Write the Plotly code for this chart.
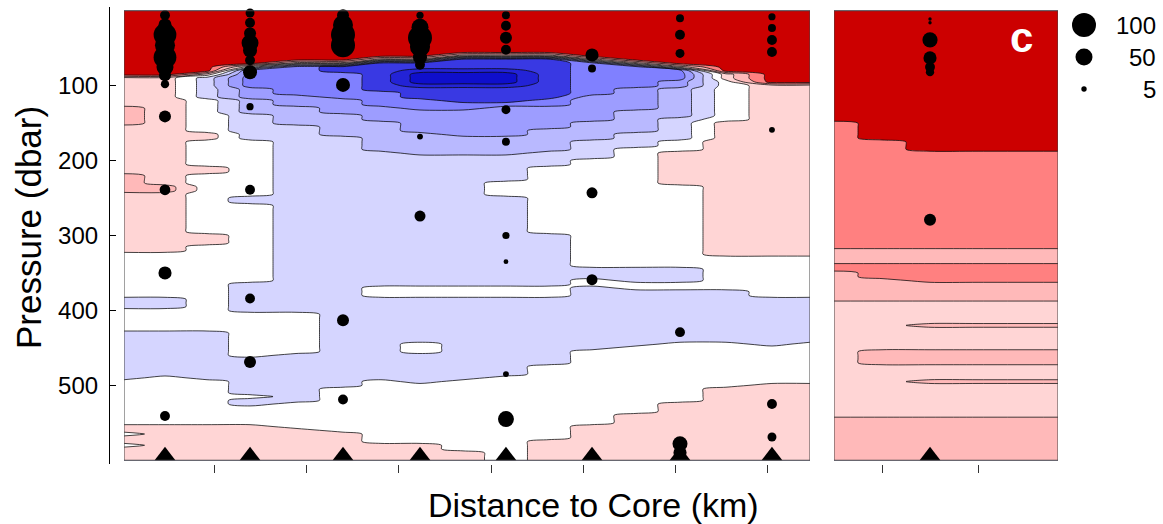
import plotly.graph_objects as go

# ---------------- data ----------------
# pressure grid (dbar)
P_GRID = list(range(0, 605, 5))

# left section: column positions (km) and layer tops (start pressure, class)
# class: 4 dark red, 3 salmon, 2 light salmon, 1 pink, 0 white,
#        -1..-7 increasingly dark blue
LEFT_X = [0.25, 4.69, 9.24, 13.90, 18.88, 23.97, 28.08, 32.31, 36.97,
          41.62, 46.28, 50.94, 55.70, 60.47, 65.45, 70.43, 74.55]
LEFT_LAYERS = [
    [(0, 4), (90, 1), (130, 2), (155, 1), (220, 2), (245, 1), (325, 0), (385, -1), (400, 0),
     (430, -1), (495, 0), (555, 1), (565, 0), (570, 1), (580, 0), (585, 1)],
    [(0, 4), (90, 1), (235, 2), (245, 1), (325, 0), (385, -1), (400, 0), (430, -1), (490, 0), (555, 1)],
    [(0, 4), (85, 1), (90, -1), (120, 0), (165, 1), (175, 0), (210, 1), (220, 0), (300, 1), (315, 0),
     (430, -1), (495, 0), (555, 1)],
    [(0, 4), (75, 0), (80, -4), (105, -3), (120, -2), (140, -1), (175, 0), (250, -1), (260, 0), (365, -1),
     (405, 0), (465, -1), (515, 0), (520, -1), (530, 0), (555, 1)],
    [(0, 4), (70, 1), (75, -4), (115, -3), (130, -2), (155, -1), (405, 0), (460, -1), (525, 0), (560, 1)],
    [(0, 4), (70, 1), (75, -5), (85, -4), (120, -3), (140, -2), (170, -1), (505, 0), (565, 1)],
    [(0, 4), (65, 1), (70, -5), (110, -4), (130, -3), (150, -2), (190, -1), (370, 0), (385, -1), (495, 0),
     (580, 1)],
    [(0, 4), (65, 1), (70, -5), (80, -6), (85, -7), (100, -6), (105, -5), (120, -4), (135, -3), (165, -2),
     (195, -1), (370, 0), (385, -1), (445, 0), (460, -1), (500, 0), (580, 1)],
    [(0, 4), (60, 1), (65, -5), (80, -6), (85, -7), (100, -6), (105, -5), (125, -4), (135, -3), (170, -2),
     (195, -1), (370, 0), (385, -1), (495, 0), (590, 1)],
    [(0, 4), (60, 1), (65, -5), (80, -6), (85, -7), (100, -6), (105, -5), (125, -4), (130, -3), (170, -2),
     (195, -1), (230, 0), (250, -1), (370, 0), (385, -1), (490, 0)],
    [(0, 4), (60, 1), (65, -5), (120, -4), (130, -3), (160, -2), (190, -1), (210, 0), (300, -1), (370, 0),
     (385, -1), (475, 0), (575, 1)],
    [(0, 4), (65, 1), (70, -4), (115, -3), (150, -2), (175, -1), (200, 0), (345, -1), (360, 0), (370, -1),
     (455, 0), (555, 1)],
    [(0, 4), (70, 1), (75, -4), (105, -3), (135, -2), (165, -1), (185, 0), (345, -1), (365, 0), (375, -1),
     (450, 0), (540, 1)],
    [(0, 4), (75, 1), (80, -4), (95, -3), (105, -2), (145, -1), (175, 0), (190, 1), (235, 0), (345, -1),
     (365, 0), (375, -1), (445, 0), (525, 1)],
    [(0, 4), (85, 1), (95, 0), (150, 1), (330, 0), (375, -1), (445, 0), (505, 1)],
    [(0, 4), (100, 1), (330, 0), (385, -1), (450, 0), (500, 1)],
    [(0, 4), (100, 1), (330, 0), (385, -1), (445, 0), (500, 1)],
]

# right section (panel c)
RIGHT_X = [0, 5, 10, 15, 23.33]
RIGHT_LAYERS = [
    [(0, 4), (150, 3), (320, 2), (340, 3), (350, 2), (390, 1), (545, 2)],
    [(0, 4), (175, 3), (320, 2), (340, 3), (360, 2), (390, 1), (455, 2), (475, 1), (545, 2)],
    [(0, 4), (190, 3), (320, 2), (340, 3), (365, 2), (390, 1), (420, 2), (425, 1), (455, 2),
     (475, 1), (495, 2), (500, 1), (545, 2)],
    [(0, 4), (190, 3), (320, 2), (340, 3), (365, 2), (390, 1), (420, 2), (425, 1), (455, 2),
     (475, 1), (495, 2), (500, 1), (545, 2)],
    [(0, 4), (190, 3), (320, 2), (340, 3), (365, 2), (390, 1), (420, 2), (425, 1), (455, 2),
     (475, 1), (495, 2), (500, 1), (545, 2)],
]

CLASS_COLORS = ['#0F0FCC', '#2323D6', '#3939E3', '#8080FF', '#9D9DFF', '#B9B9FF', '#D5D5FF',
                '#FFFFFF', '#FFD5D5', '#FFB9B9', '#FF8080', '#CC0000']  # classes -7..4

# bubbles: station x (km), pressure (dbar), value
STATIONS_LEFT = [4.69, 13.90, 23.97, 32.31, 41.62, 50.94, 60.47, 70.43]
BUB_LEFT_X = ([4.69] * 12 + [13.90] * 11 + [23.97] * 7 + [32.31] * 8 + [41.62] * 10
              + [50.94] * 4 + [60.47] * 6 + [70.43] * 7)
BUB_LEFT_P = ([6, 19, 32, 46, 62, 75, 86, 98, 141, 239, 350, 541]
              + [3, 16, 30, 43, 53, 66, 82, 128, 239, 384, 469]
              + [6, 19, 32, 46, 99, 413, 519]
              + [6, 22, 36, 48, 62, 72, 168, 274]
              + [6, 20, 36, 52, 132, 175, 300, 335, 485, 545]
              + [59, 77, 243, 359]
              + [10, 32, 57, 429, 578, 590]
              + [8, 23, 39, 55, 159, 525, 569])
BUB_LEFT_V = ([17, 30, 90, 70, 90, 50, 25, 12, 25, 20, 30, 17]
              + [14, 17, 25, 50, 34, 17, 34, 9, 17, 17, 25]
              + [25, 69, 100, 100, 34, 25, 17]
              + [9, 50, 100, 70, 34, 17, 6, 21]
              + [11, 17, 25, 17, 14, 11, 9, 4, 6, 44]
              + [30, 11, 21, 21]
              + [11, 17, 14, 17, 39, 30]
              + [9, 11, 17, 17, 6, 17, 14])
STATION_RIGHT = [10.0]
BUB_RIGHT_X = [10.0] * 7
BUB_RIGHT_P = [11, 16, 39, 63, 75, 82, 279]
BUB_RIGHT_V = [2, 2, 40, 30, 17, 12, 25]
BOTTOM_P = 594

LEGEND_VALUES = [100, 50, 5]
Y_TICKS = [100, 200, 300, 400, 500]

FONT = 'Liberation Sans, Arial, sans-serif'


def expand(layers):
    z = []
    for p in P_GRID:
        row = []
        for col in layers:
            cls = col[0][1]
            for start, c in col:
                if p >= start:
                    cls = c
            row.append(cls)
        z.append(row)
    return z


def diam(vals):
    return [24 * (v / 100) ** 0.5 for v in vals]


n = len(CLASS_COLORS)
nlev = n - 1
cscale = []
for j, c in enumerate(CLASS_COLORS):
    lo = max(0.0, (j - 0.5) / nlev)
    hi = min(1.0, (j + 0.5) / nlev)
    cscale.append([lo, c])
    cscale.append([hi, c])

contour_kw = dict(
    autocontour=False,
    contours=dict(start=-6.5, end=3.5, size=1, coloring='fill', showlines=True),
    colorscale=cscale, showscale=False,
    line=dict(color='rgba(10,10,10,0.85)', width=0.9, smoothing=0.8),
    hoverinfo='skip',
)

fig = go.Figure()
fig.add_trace(go.Contour(x=LEFT_X, y=P_GRID, z=expand(LEFT_LAYERS), xaxis='x', yaxis='y', **contour_kw))
fig.add_trace(go.Contour(x=RIGHT_X, y=P_GRID, z=expand(RIGHT_LAYERS), xaxis='x2', yaxis='y', **contour_kw))

mk = dict(color='black', opacity=1, line=dict(width=0))
fig.add_trace(go.Scatter(x=BUB_LEFT_X, y=BUB_LEFT_P, mode='markers', xaxis='x', yaxis='y',
                         marker=dict(size=diam(BUB_LEFT_V), **mk),
                         showlegend=False, hoverinfo='skip'))
fig.add_trace(go.Scatter(x=BUB_RIGHT_X, y=BUB_RIGHT_P, mode='markers', xaxis='x2', yaxis='y',
                         marker=dict(size=diam(BUB_RIGHT_V), **mk),
                         showlegend=False, hoverinfo='skip'))
fig.add_trace(go.Scatter(x=STATIONS_LEFT, y=[BOTTOM_P] * len(STATIONS_LEFT), mode='markers',
                         xaxis='x', yaxis='y', cliponaxis=False,
                         marker=dict(symbol='triangle-up', size=18, **mk),
                         showlegend=False, hoverinfo='skip'))
fig.add_trace(go.Scatter(x=STATION_RIGHT, y=[BOTTOM_P], mode='markers',
                         xaxis='x2', yaxis='y', cliponaxis=False,
                         marker=dict(symbol='triangle-up', size=18, **mk),
                         showlegend=False, hoverinfo='skip'))
# size legend
fig.add_trace(go.Scatter(x=[23.3] * 3, y=[0, 1, 2], mode='markers', xaxis='x3', yaxis='y3',
                         marker=dict(size=diam(LEGEND_VALUES), **mk),
                         showlegend=False, hoverinfo='skip', cliponaxis=False))

W, H = 1163, 524
def px_x(v):
    return v / W
def px_y(v):
    return 1 - v / H

ydom = [px_y(464), px_y(7)]
fig.update_layout(
    width=W, height=H, margin=dict(l=0, r=0, t=0, b=0),
    paper_bgcolor='white', plot_bgcolor='white', showlegend=False,
    font=dict(family=FONT, color='black'),
    xaxis=dict(domain=[px_x(124), px_x(810)], range=[0.25, 74.55], anchor='y',
               showline=False, showgrid=False, zeroline=False, showticklabels=False,
               ticks='outside', ticklen=8, tickwidth=1, tickcolor='#333',
               tickvals=[10, 20, 30, 40, 50, 60, 70]),
    xaxis2=dict(domain=[px_x(834), px_x(1058)], range=[0, 23.33], anchor='y',
                showline=False, showgrid=False, zeroline=False, showticklabels=False,
                ticks='outside', ticklen=8, tickwidth=1, tickcolor='#333',
                tickvals=[5, 15]),
    yaxis=dict(domain=ydom, range=[605, -5], anchor='free', position=px_x(109),
               showline=True, linecolor='black', linewidth=1.2, showgrid=False, zeroline=False,
               ticks='inside', ticklen=6, tickwidth=1.2, tickcolor='black',
               tickvals=[-5] + Y_TICKS + [605], ticktext=[''] + [str(t) for t in Y_TICKS] + [''],
               tickfont=dict(size=24, color='black', family=FONT), ticklabelstandoff=6),
    xaxis3=dict(domain=[px_x(1060), px_x(1163)], range=[0, 100], anchor='y3', visible=False),
    yaxis3=dict(domain=[px_y(105), px_y(9)], range=[2.5, -0.5], anchor='x3', visible=False),
)

shapes = [
    dict(type='rect', xref='x', yref='y', x0=0.25, x1=74.55, y0=0, y1=600,
         line=dict(color='#444', width=1), fillcolor='rgba(0,0,0,0)', layer='above'),
    dict(type='rect', xref='x2', yref='y', x0=0, x1=23.33, y0=0, y1=600,
         line=dict(color='#444', width=1), fillcolor='rgba(0,0,0,0)', layer='above'),
]
fig.update_layout(shapes=shapes)

ann = [
    dict(text='Pressure (dbar)', x=px_x(29), y=px_y(228), xref='paper', yref='paper',
         textangle=-90, showarrow=False, font=dict(size=35, color='black', family=FONT),
         xanchor='center', yanchor='middle'),
    dict(text='Distance to Core (km)', x=px_x(593), y=px_y(505), xref='paper', yref='paper',
         showarrow=False, font=dict(size=34, color='black', family=FONT),
         xanchor='center', yanchor='middle'),
    dict(text='<b>c</b>', x=px_x(1021), y=px_y(38), xref='paper', yref='paper',
         showarrow=False, font=dict(size=42, color='white', family=FONT),
         xanchor='center', yanchor='middle'),
]
for i, v in enumerate(LEGEND_VALUES):
    ann.append(dict(text=str(v), x=95, y=i, xref='x3', yref='y3', showarrow=False,
                    xanchor='right', yanchor='middle',
                    font=dict(size=24, color='black', family=FONT)))
fig.update_layout(annotations=ann)

fig.write_html('out.html', config={'displayModeBar': False},
               post_script="document.body.style.margin='0px';")
